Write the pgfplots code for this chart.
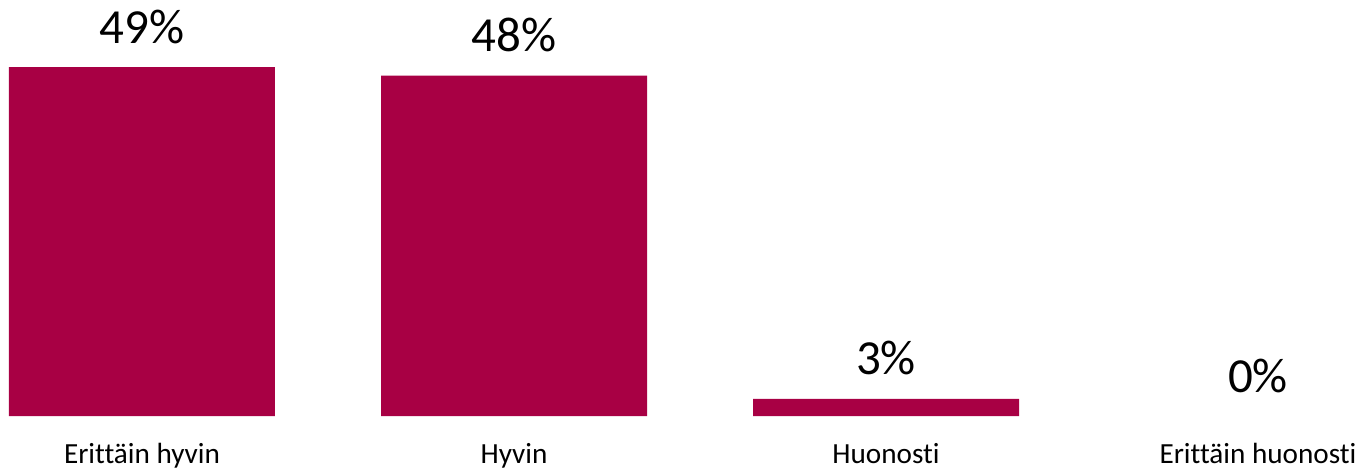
\documentclass[border=0pt]{standalone}
\usepackage{fontspec}
\setmainfont[Ligatures=NoCommon]{Carlito}
\usepackage{pgfplots}
\pgfplotsset{compat=1.18}
\definecolor{barred}{RGB}{168,0,68}

\begin{document}
\begin{tikzpicture}
\begin{axis}[
  ybar, scale only axis,
  width=680pt, height=208pt,
  xmin=-0.3817, xmax=3.2742,
  ymin=0, ymax=58.43,
  bar width=133pt, bar shift=0pt,
  axis line style={draw=none},
  tick style={draw=none},
  ytick=\empty,
  xtick={0,1,2,3},
  xticklabels={Erittäin hyvin, Hyvin, Huonosti, Erittäin huonosti},
  xticklabel style={anchor=base, yshift=-19.5pt, inner sep=0pt,
    font=\fontsize{14.6}{17}\selectfont},
  point meta=explicit symbolic,
  nodes near coords,
  every node near coord/.append style={anchor=base, yshift=12pt, inner sep=0pt,
    font=\fontsize{24.5}{29}\selectfont, text=black},
  clip=false,
]
\addplot[fill=barred, draw=none] coordinates {
  (0,49.0) [49\%]
  (1,47.8) [48\%]
  (2,2.4)  [3\%]
};
\addplot[fill=none, draw=none] coordinates {
  (3,0)    [0\%]
};
\coordinate (bl) at (rel axis cs:0,0);
\coordinate (tr) at (rel axis cs:1,1);
\end{axis}
\pgfresetboundingbox
\path (bl) ++(0,-26pt) rectangle (tr);
\end{tikzpicture}
\end{document}
